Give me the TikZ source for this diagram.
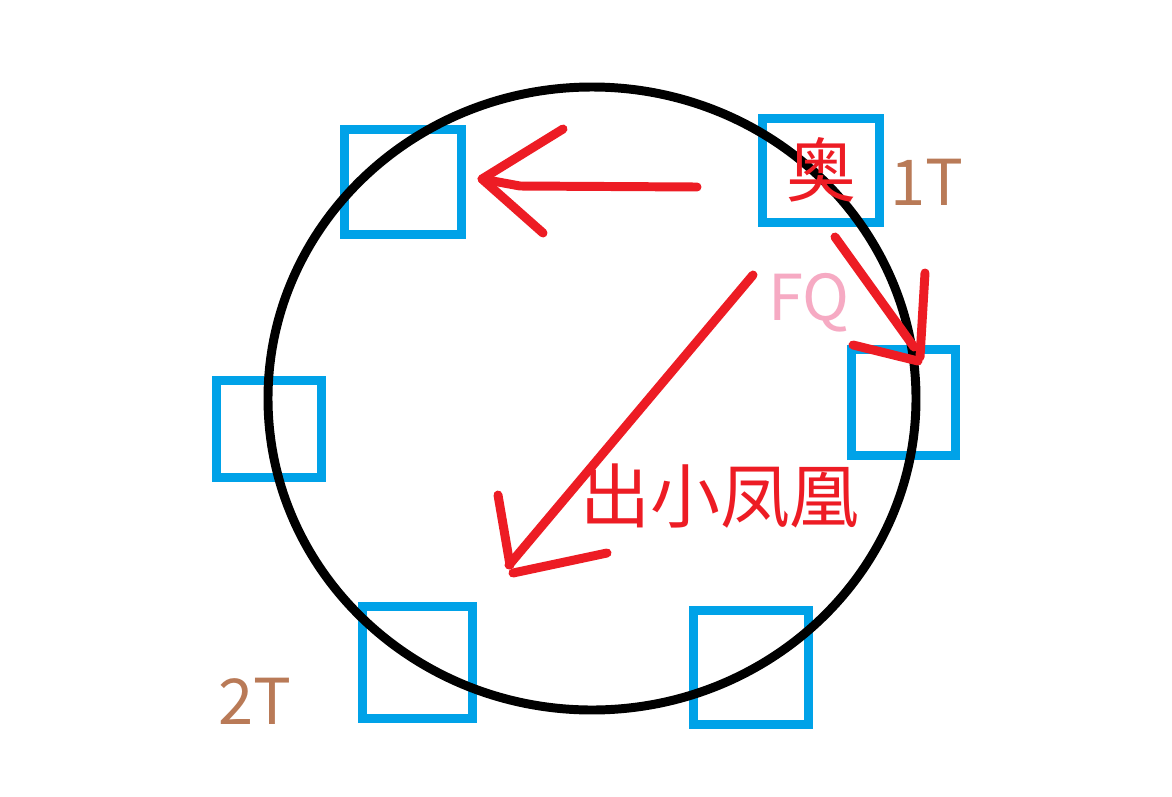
\documentclass[tikz,border=0pt]{standalone}
\usepackage{fontspec}
\setmainfont{Noto Sans CJK SC}
\definecolor{paintred}{RGB}{237,28,36}
\definecolor{paintblue}{RGB}{0,162,232}
\definecolor{paintbrown}{RGB}{185,122,87}
\definecolor{paintpink}{RGB}{246,170,195}
\tikzset{
  seat/.style={draw=paintblue,line width=5.1pt,inner sep=0pt},
  stroke/.style={paintred,line width=5.1pt,line cap=round,line join=round},
  big/.style={font=\fontsize{39.8pt}{40pt}\selectfont},
  tag/.style={font=\fontsize{36pt}{37pt}\selectfont}
}
\begin{document}
\begin{tikzpicture}[x=0.2mm,y=-0.2mm]
\path[use as bounding box,fill=white] (0,0) rectangle (1172,796);
% seats round the table
\node[seat,minimum width=23.4mm,minimum height=21mm] (nw) at (403,182) {};
\node[seat,minimum width=23.4mm,minimum height=20.8mm] (ne) at (821,170.5) {};
\node[seat,minimum width=20.8mm,minimum height=21.2mm] (e) at (903.5,402.5) {};
\node[seat,minimum width=21mm,minimum height=19.4mm] (w) at (269,429) {};
\node[seat,minimum width=22mm,minimum height=22.4mm] (sw) at (417.5,662.5) {};
\node[seat,minimum width=23mm,minimum height=22.8mm] (se) at (751,667.5) {};
\draw[line width=5.1pt] (592,398.5) ellipse [x radius=324,y radius=311.5];
% hand drawn arrows
\coordinate (lefttail) at (697,187);
\coordinate (leftbend) at (520,186);
\coordinate (lefttip) at (482,179);
\coordinate (leftup) at (563,129);
\coordinate (leftdown) at (543,233);
\draw[stroke] (lefttail) -- (leftbend) -- (lefttip);
\draw[stroke] (leftup) -- (lefttip) -- (leftdown);
\coordinate (righttail) at (835,237);
\coordinate (righttip) at (914,347);
\coordinate (rightup) at (925,273);
\coordinate (rightend) at (920,357);
\coordinate (rightleft) at (853,345);
\coordinate (rightend2) at (918,361);
\draw[stroke] (righttail) -- (righttip);
\draw[stroke] (rightup) -- (rightend);
\draw[stroke] (rightleft) -- (rightend2);
\coordinate (longtail) at (753,275);
\coordinate (longtip) at (509,565);
\coordinate (longup) at (498,495);
\coordinate (longend) at (510,565);
\coordinate (longright) at (607,553);
\coordinate (longend2) at (513,573);
\draw[stroke] (longtail) -- (longtip);
\draw[stroke] (longup) -- (longend);
\draw[stroke] (longright) -- (longend2);
% labels
\node[big,text=paintred] (ao) at (821,170) {奥};
\node[tag,text=paintbrown] (oneT) at (927,182) {1T};
\node[tag,text=paintpink] (fq) at (809,303) {FQ};
\node[big,text=paintred] (chu) at (720,496) {出小凤凰};
\node[tag,text=paintbrown] (twoT) at (255,701) {2T};
\end{tikzpicture}
\end{document}
